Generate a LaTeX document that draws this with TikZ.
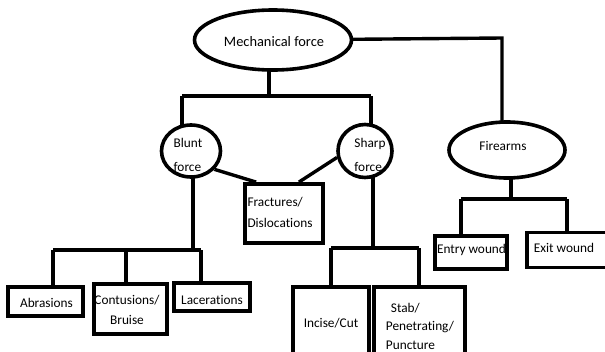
\documentclass[tikz,border=0pt]{standalone}
\usepackage{fontspec}
\setmainfont[Ligatures={NoCommon}]{Carlito}
\usetikzlibrary{shapes.geometric,backgrounds,calc}
\tikzset{
  ell/.style={draw, ellipse, line width=3.6pt, fill=white, inner sep=0pt},
  box/.style={draw, rectangle, line width=3.8pt, fill=white, inner sep=0pt},
  lbl/.style={inner sep=0pt, font=\fontsize{13.3}{19}\selectfont},
  conn/.style={line width=3.4pt},
}
\begin{document}
\begin{tikzpicture}[x=1pt,y=-1pt]
\clip (0,0) rectangle (605,351);
\useasboundingbox (0,0) rectangle (605,351);
% shapes
\node[ell, minimum width=157, minimum height=60] (mech) at (273,40) {};
\node[ell, minimum width=59, minimum height=52] (blunt) at (191,151) {};
\node[ell, minimum width=54, minimum height=53] (sharp) at (365,151) {};
\node[ell, minimum width=116, minimum height=56] (fire) at (507,150) {};
\node[box, minimum width=78, minimum height=59] (frac) at (284,213.5) {};
\node[box, minimum width=75, minimum height=29] (abr) at (45.5,301.5) {};
\node[box, minimum width=73, minimum height=50] (cont) at (130.5,309) {};
\node[box, minimum width=76, minimum height=28] (lac) at (212,297) {};
\node[box, minimum width=76, minimum height=80] (inc) at (331,327) {};
\node[box, minimum width=91, minimum height=80] (stab) at (419.5,327) {};
\node[box, minimum width=72, minimum height=33] (entry) at (471,252.5) {};
\node[box, minimum width=86, minimum height=35] (exit) at (570,250) {};
% texts
\node[lbl, font=\fontsize{14.4}{19}\selectfont] (tmech) at (274,42) {Mechanical force};
\node[lbl, align=left, font=\fontsize{13.3}{24}\selectfont] (tblunt) at (188,155) {Blunt\\force};
\node[lbl, align=left, font=\fontsize{13.3}{24}\selectfont] (tsharp) at (370,155) {Sharp\\force};
\node[lbl] (tfire) at (503,146) {Firearms};
\node[lbl, align=left, font=\fontsize{13.3}{21}\selectfont] (tfrac) at (280,212.5) {Fractures/\\Dislocations};
\node[lbl] (tabr) at (46.5,303) {Abrasions};
\node[lbl, align=center, font=\fontsize{13.3}{20}\selectfont] (tcont) at (127,310) {Contusions/\\Bruise};
\node[lbl] (tlac) at (212,300) {Lacerations};
\node[lbl] (tinc) at (331,323) {Incise/Cut};
\node[lbl, align=left, font=\fontsize{13.3}{18.5}\selectfont] (tstab) at (420,326) {\hspace{5pt}Stab/\\Penetrating/\\Puncture};
\node[lbl] (tentry) at (471.5,250) {Entry wound};
\node[lbl] (texit) at (564,248) {Exit wound};
% connectors
\coordinate (m1) at (269,96);
\coordinate (mL) at (182,96);
\coordinate (mR) at (371,96);
\coordinate (mf) at (502,38);
\coordinate (b1) at (193,250);
\coordinate (bL) at (53,250);
\coordinate (bM) at (126,250);
\coordinate (bR) at (201,250);
\coordinate (s1) at (373,248);
\coordinate (sL) at (331,248);
\coordinate (sR) at (419,248);
\coordinate (f1) at (511,199);
\coordinate (fL) at (461,199);
\coordinate (fR) at (567,199);
\begin{pgfonlayer}{background}
\draw[conn] (m1 |- mech.center) -- (m1);
\draw[conn] (mL) -- (mR);
\draw[conn] (mL) -- (mL |- blunt.center);
\draw[conn] (mR) -- (mR |- sharp.center);
\draw[conn] (mech.center) -- (mf) -- (mf |- fire.center);
\draw[conn] (b1 |- blunt.center) -- (b1);
\draw[conn] (bL) -- (bR);
\draw[conn] (bL) -- (bL |- abr.center);
\draw[conn] (bM) -- (bM |- cont.center);
\draw[conn] (bR) -- (bR |- lac.center);
\draw[conn] (s1 |- sharp.center) -- (s1);
\draw[conn] (sL) -- (sR);
\draw[conn] (sL) -- (sL |- inc.center);
\draw[conn] (sR) -- (sR |- stab.center);
\draw[conn] (f1 |- fire.center) -- (f1);
\draw[conn] (fL) -- (fR);
\draw[conn] (fL) -- (fL |- entry.center);
\draw[conn] (fR) -- (fR |- exit.center);
\end{pgfonlayer}
\draw[conn] (blunt.-38) -- ($(frac.north west)+(13,0)$);
\draw[conn] (sharp.193) -- ($(frac.north east)+(-26,0)$);
\end{tikzpicture}
\end{document}
